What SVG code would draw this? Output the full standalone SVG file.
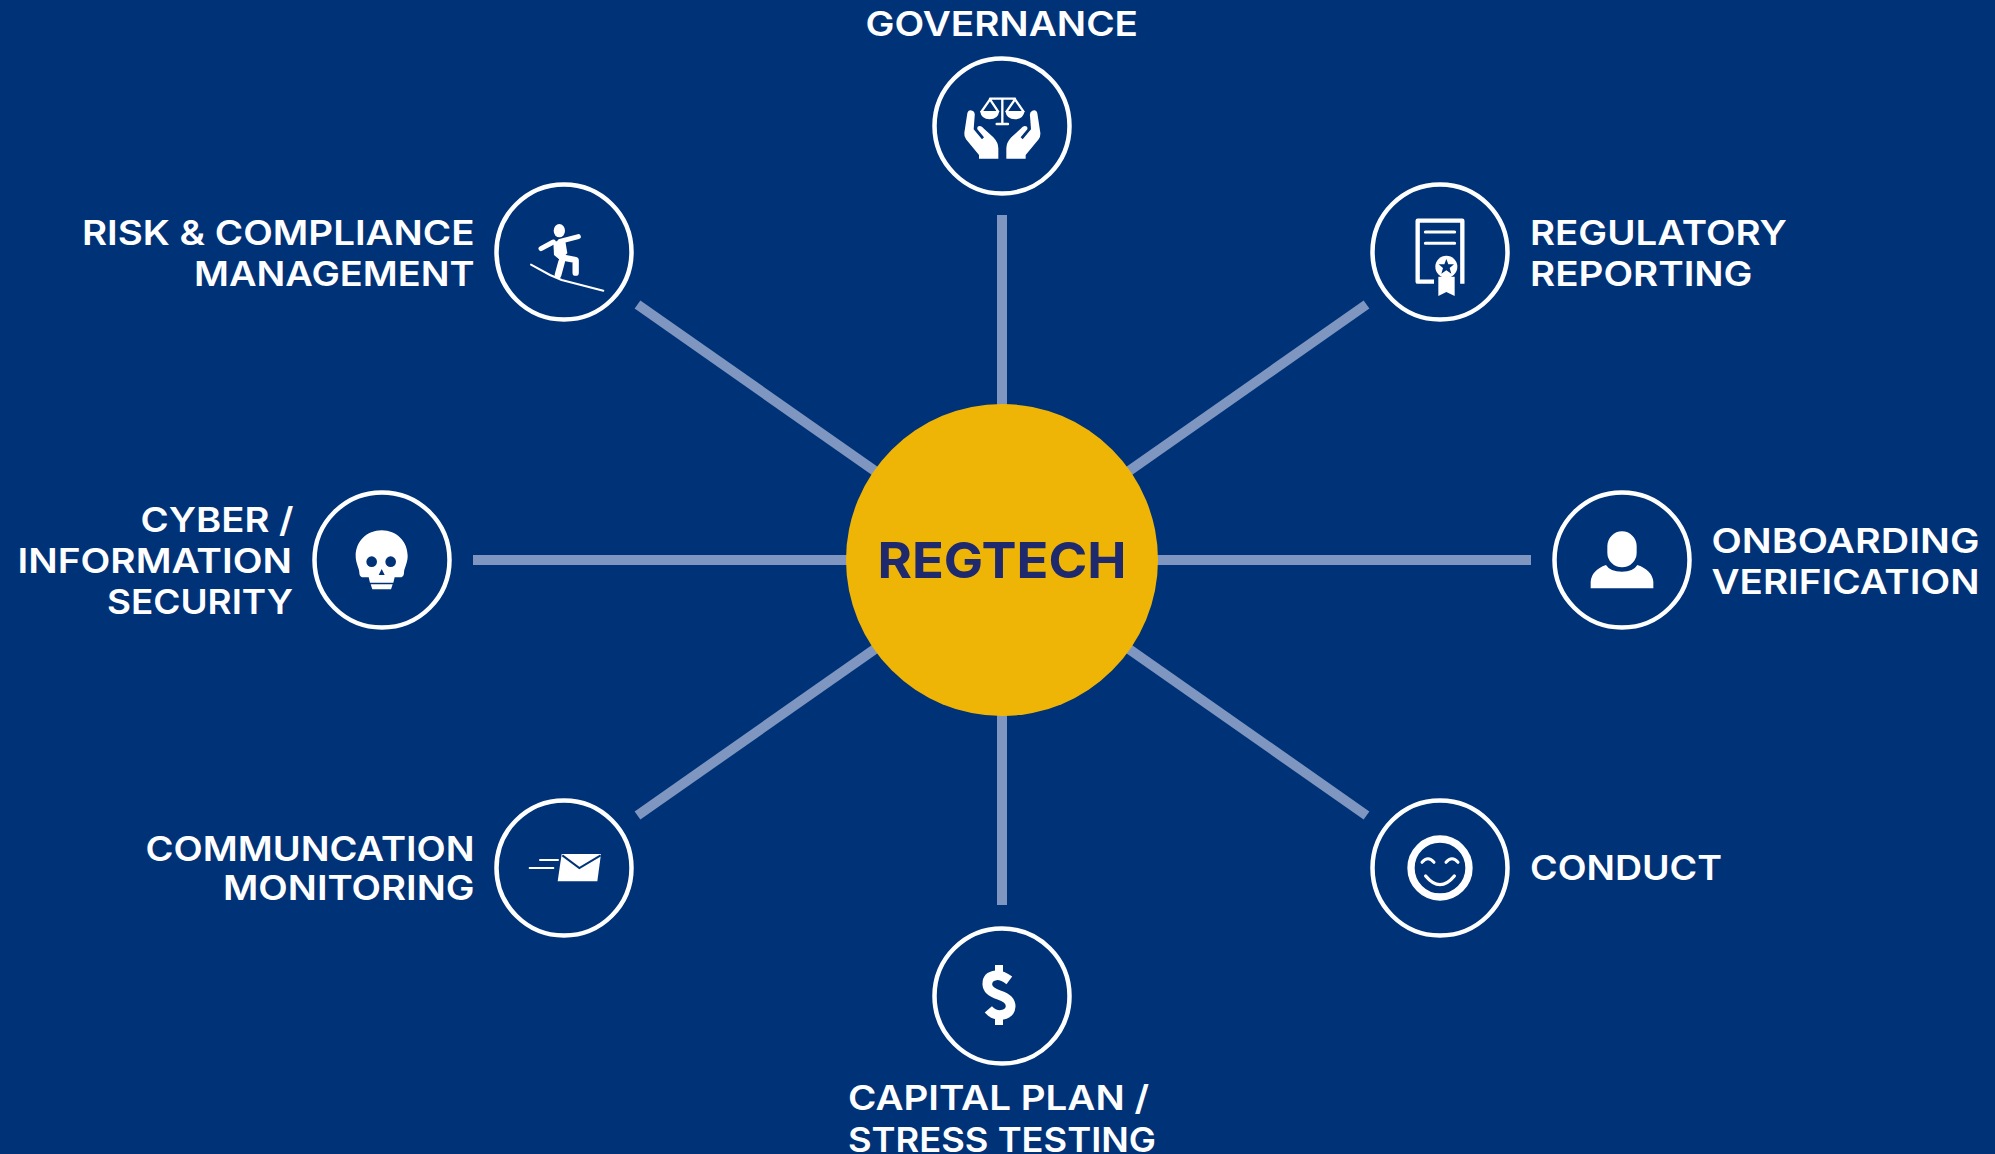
<svg xmlns="http://www.w3.org/2000/svg" width="1995" height="1154" viewBox="0 0 1995 1154">
<style>
.ring{fill:none;stroke:#fff;stroke-width:4.5}
.lbl{font-family:"Inter","Liberation Sans",sans-serif;font-size:34.5px;font-weight:600;fill:#fff}
.ic{fill:#fff}
.bl{fill:#003278}
.icl{fill:none;stroke:#fff;stroke-linecap:round;stroke-linejoin:round}
.blk{fill:none;stroke:#003278}
#connectors line{stroke:#7f97c0;stroke-width:10}
</style>
<rect width="1995" height="1154" fill="#003278"/>
<g id="connectors">
<line x1="1002" y1="215" x2="1002" y2="905"/>
<line x1="473" y1="560" x2="1531" y2="560"/>
<line x1="637.5" y1="304.5" x2="1366.5" y2="815.5"/>
<line x1="1366.5" y1="304.5" x2="637.5" y2="815.5"/>
</g>
<g id="center">
<circle cx="1002" cy="560" r="156" fill="#efb506"/>
<text x="877.5" y="578" textLength="249" lengthAdjust="spacingAndGlyphs" style="font-family:Inter,'Liberation Sans',sans-serif;font-size:50px;font-weight:700;fill:#1f2a6e">REGTECH</text>
</g>
<g id="governance">
<text class="lbl" x="865.5" y="36" textLength="272.5" lengthAdjust="spacingAndGlyphs">GOVERNANCE</text>
<circle class="ring" cx="1002" cy="126" r="67.5"/>
<g transform="translate(880,0) scale(.33333)">
<path class="ic" id="hand" d="M262 340Q265 328 277 332Q286 336 284 348L281 388L306 418L312 412L292 388Q290 378 300 378Q306 378 312 386L340 412Q355 428 355 445V476H297V465L258 418Q252 410 253 398Z"/>
<use href="#hand" transform="translate(734,0) scale(-1,1)"/>
<path class="icl" stroke-width="7" d="M330 296H405M367 296V372M350 372H384M330 298L305 334M330 298L354 334M405 298L380 334M405 298L430 334"/>
<path class="ic" d="M300 333H358Q354 358 329 358Q304 358 300 333ZM376 333H434Q430 358 405 358Q380 358 376 333Z"/>
</g>
</g>
<g id="risk-compliance">
<text class="lbl" x="82" y="245" textLength="392.5" lengthAdjust="spacingAndGlyphs">RISK &amp; COMPLIANCE</text>
<text class="lbl" x="194" y="286" textLength="280.5" lengthAdjust="spacingAndGlyphs">MANAGEMENT</text>
<circle class="ring" cx="564" cy="252" r="67.5"/>
<g transform="translate(470,160) scale(.33333)">
<ellipse class="ic" cx="268" cy="212" rx="17" ry="20"/>
<path class="icl" stroke-width="15" d="M270 244L325 230M250 246L213 266"/>
<path class="ic" d="M250 246L285 238L292 280L270 300L252 285Z"/>
<path class="icl" stroke-width="19" d="M275 292L317 300L317 338"/>
<path class="icl" stroke-width="20" d="M275 305L264 345"/>
<path class="icl" stroke-width="6" d="M183 314L240 345L275 360L400 392"/>
</g>
</g>
<g id="regulatory-reporting">
<text class="lbl" x="1530" y="245" textLength="257" lengthAdjust="spacingAndGlyphs">REGULATORY</text>
<text class="lbl" x="1530" y="286" textLength="222.5" lengthAdjust="spacingAndGlyphs">REPORTING</text>
<circle class="ring" cx="1440" cy="252" r="67.5"/>
<g transform="translate(1350,160) scale(.33333)">
<path fill="none" stroke="#fff" stroke-width="13" stroke-linejoin="round" d="M252 365H203V182H337V371"/>
<path class="icl" stroke-width="9" d="M226 216H314M226 250H314"/>
<path class="ic" d="M265 350V408L289 396L314 408V350Z"/>
<circle class="ic" cx="289" cy="320" r="33"/>
<path class="bl" d="M289 297L295 313L312 313L299 324L304 341L289 331L274 341L279 324L266 313L283 313Z"/>
</g>
</g>
<g id="cyber-security">
<text class="lbl" x="140.5" y="532" textLength="153" lengthAdjust="spacingAndGlyphs">CYBER /</text>
<text class="lbl" x="17.5" y="573" textLength="274.5" lengthAdjust="spacingAndGlyphs">INFORMATION</text>
<text class="lbl" x="107" y="614" textLength="186" lengthAdjust="spacingAndGlyphs">SECURITY</text>
<circle class="ring" cx="382" cy="560" r="67.5"/>
<g transform="translate(300,470) scale(.33333)">
<path class="ic" d="M245 181C290 181 323 215 323 258C323 280 312 295 312 308Q312 322 298 322H284L280 338H210L206 322H192Q178 322 178 308C178 295 167 280 167 258C167 215 200 181 245 181Z"/>
<circle class="bl" cx="215" cy="275" r="16"/>
<circle class="bl" cx="272" cy="275" r="16"/>
<path class="bl" d="M245 297L236 315H254Z"/>
<path class="ic" d="M212 343H278L273 358H217Z"/>
</g>
</g>
<g id="onboarding-verification">
<text class="lbl" x="1711.5" y="553" textLength="268" lengthAdjust="spacingAndGlyphs">ONBOARDING</text>
<text class="lbl" x="1711.5" y="593.5" textLength="268" lengthAdjust="spacingAndGlyphs">VERIFICATION</text>
<circle class="ring" cx="1622" cy="560" r="67.5"/>
<g transform="translate(1530,470) scale(.33333)">
<rect class="ic" x="232" y="184" width="88" height="108" rx="44"/>
<path class="ic" d="M182 355V335Q185 300 228 285Q240 305 276 305Q310 305 322 285Q366 300 370 335V355Z"/>
</g>
</g>
<g id="communication-monitoring">
<text class="lbl" x="145.5" y="861" textLength="329" lengthAdjust="spacingAndGlyphs">COMMUNCATION</text>
<text class="lbl" x="223" y="900" textLength="251.5" lengthAdjust="spacingAndGlyphs">MONITORING</text>
<circle class="ring" cx="564" cy="868" r="67.5"/>
<g transform="translate(480,780) scale(.33333)">
<path class="ic" d="M245 222H363L352 304H233Z"/>
<path class="blk" stroke-width="6" d="M247 226L298 264L362 226"/>
<path class="icl" stroke-width="6" d="M180 240H234M149 264H220"/>
</g>
</g>
<g id="conduct">
<text class="lbl" x="1530" y="880" textLength="192" lengthAdjust="spacingAndGlyphs">CONDUCT</text>
<circle class="ring" cx="1440" cy="868" r="67.5"/>
<g transform="translate(1360,780) scale(.33333)">
<circle cx="240" cy="264" r="87" fill="none" stroke="#fff" stroke-width="22"/>
<path class="icl" stroke-width="9" d="M186 247Q204 226 222 247M258 247Q276 226 294 247"/>
<path class="icl" stroke-width="10" d="M197 288Q240 340 283 288"/>
</g>
</g>
<g id="capital-plan">
<circle class="ring" cx="1002" cy="996" r="67.5"/>
<g transform="translate(920,910) scale(.33333)">
<path fill="none" stroke="#fff" stroke-width="29" d="M268 211Q245 194 228 196Q201 199 202 224Q203 244 237 255Q272 266 272 289Q270 313 240 315Q220 315 205 298"/>
<path class="ic" d="M225 165H249V195H225ZM225 315H249V345H225Z"/>
</g>
<text class="lbl" x="848" y="1110" textLength="301" lengthAdjust="spacingAndGlyphs">CAPITAL PLAN /</text>
<text class="lbl" x="848" y="1151.5" textLength="308" lengthAdjust="spacingAndGlyphs">STRESS TESTING</text>
</g>
</svg>
